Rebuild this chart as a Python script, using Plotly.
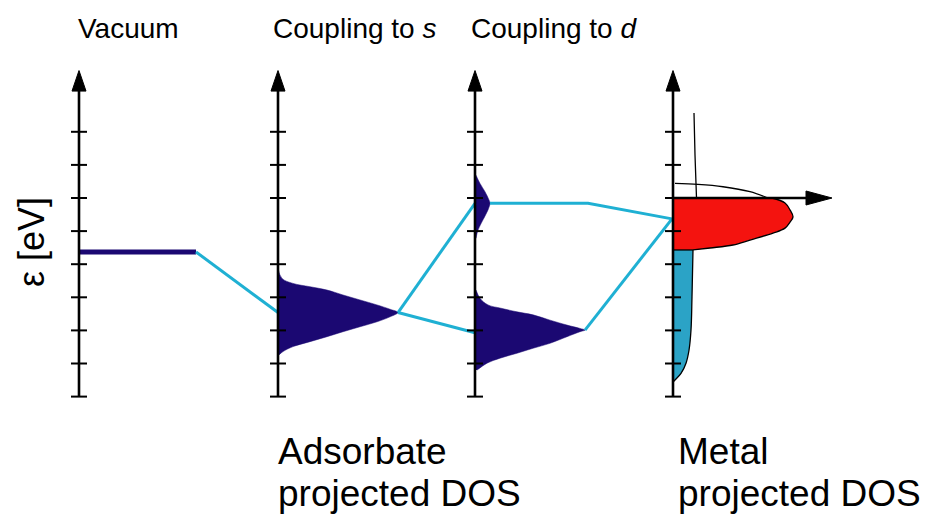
import plotly.graph_objects as go

# ---------------- data (energies in eV, densities in arbitrary units) ----------------
TICK_E = [2, 1, 0, -1, -2, -3, -4, -5, -6]
PANEL_X = [0.79, 2.78, 4.75, 6.73]          # positions of the four energy axes
E_AXIS_MIN = -6.0
E_AXIS_TIP = 3.85

E_VACUUM = -1.63
VACUUM_LEN = 1.17

# adsorbate level coupled to s-band (broadened)
S_E = [-2.12, -2.43, -2.58, -2.68, -2.78, -2.93, -3.08, -3.23, -3.36, -3.46,
       -3.59, -3.74, -3.89, -4.04, -4.19, -4.34, -4.49, -4.64, -4.74]
S_DOS = [0.00, 0.04, 0.15, 0.32, 0.49, 0.65, 0.82, 0.99, 1.12, 1.20,
         1.12, 0.99, 0.82, 0.65, 0.49, 0.32, 0.15, 0.05, 0.01]

# coupling to d: bonding peak
DB_E = [-2.78, -3.03, -3.23, -3.33, -3.44, -3.53, -3.69, -3.84, -3.94, -3.99,
        -4.04, -4.19, -4.39, -4.54, -4.69, -4.84, -4.99, -5.20]
DB_DOS = [0.01, 0.05, 0.13, 0.26, 0.42, 0.58, 0.75, 0.92, 1.05, 1.10,
          1.05, 0.92, 0.75, 0.58, 0.42, 0.25, 0.12, 0.02]

# coupling to d: antibonding peak
DA_E = [0.69, 0.44, 0.19, -0.06, -0.16, -0.36, -0.66, -0.97, -1.22]
DA_DOS = [0.01, 0.05, 0.10, 0.14, 0.15, 0.13, 0.08, 0.03, 0.01]

# metal d-band: filled part (below Fermi level) and empty part (above)
MD_FILLED_E = [0.00, -0.15, -0.36, -0.57, -0.73, -0.91, -1.06, -1.27, -1.42, -1.51, -1.57]
MD_FILLED_DOS = [0.99, 1.12, 1.17, 1.20, 1.17, 1.12, 1.00, 0.77, 0.60, 0.37, 0.20]
MD_EMPTY_E = [0.00, 0.19, 0.34, 0.41, 0.44]
MD_EMPTY_DOS = [0.95, 0.77, 0.50, 0.25, 0.02]

# metal s-band: above Fermi level (empty) and the filled tail below the d-band
MS_EMPTY_E = [2.57, 1.30, 0.00]
MS_EMPTY_DOS = [0.21, 0.22, 0.235]
MS_FILLED_E = [-1.57, -2.98, -3.99, -4.60, -4.99, -5.30, -5.50, -5.56]
MS_FILLED_DOS = [0.20, 0.19, 0.18, 0.16, 0.13, 0.08, 0.02, 0.00]

E_HYBRID_METAL = -0.63      # where the adsorbate levels meet the metal
E_BOND_LEFT = -4.07         # lower link arrives at the d-coupling axis
LEVEL_LEN = 1.13            # length of antibonding level line
FERMI_ARROW_END = 8.32

TOP_LABELS = ["Vacuum", "Coupling to <i>s</i>", "Coupling to <i>d</i>"]
BOTTOM_LABELS = [["Adsorbate", "projected DOS"], ["Metal", "projected DOS"]]
Y_LABEL = "ε [eV]"

# ---------------- styling ----------------
W, H = 926, 516
NAVY = "#1b0872"
CYAN = "#1fb0d3"
TEAL = "#2ba3c6"
RED = "#f4130f"
FONT = "Liberation Sans, Arial, sans-serif"
PX = 0.01                     # x units per pixel
E_TOP_PX, E_PER_PX = 198.0, 33.1
Y_RANGE = [(E_TOP_PX - H) / E_PER_PX, E_TOP_PX / E_PER_PX]

fig = go.Figure()


def add_line(xs, ys, color, lw, shape="linear"):
    fig.add_trace(go.Scatter(x=xs, y=ys, mode="lines",
                             line=dict(color=color, width=lw, shape=shape, smoothing=1),
                             hoverinfo="skip", showlegend=False))


def add_tri(xs, ys):
    fig.add_trace(go.Scatter(x=xs, y=ys, mode="lines", fill="toself", fillcolor="black",
                             line=dict(color="black", width=1),
                             hoverinfo="skip", showlegend=False))


def band(axis, es, dos, fillcolor, linecolor, lw):
    """Fill between the energy axis (straight) and a smooth DOS curve."""
    fig.add_trace(go.Scatter(x=[axis, axis], y=[es[0], es[-1]], mode="lines",
                             line=dict(width=0, color=fillcolor),
                             hoverinfo="skip", showlegend=False))
    fig.add_trace(go.Scatter(x=[axis + d for d in dos], y=es, mode="lines", fill="tonextx",
                             fillcolor=fillcolor,
                             line=dict(color=linecolor, width=lw, shape="spline", smoothing=1),
                             hoverinfo="skip", showlegend=False))


# adsorbate peaks
band(PANEL_X[1], S_E, S_DOS, NAVY, NAVY, 0.5)
band(PANEL_X[2], DB_E, DB_DOS, NAVY, NAVY, 0.5)
band(PANEL_X[2], DA_E, DA_DOS, NAVY, NAVY, 0.5)

# vacuum level
add_line([PANEL_X[0], PANEL_X[0] + VACUUM_LEN], [E_VACUUM, E_VACUUM], NAVY, 5)

# connecting lines
s_i = S_DOS.index(max(S_DOS))
s_tip = (PANEL_X[1] + S_DOS[s_i], S_E[s_i])
a_i = DA_DOS.index(max(DA_DOS))
b_i = DB_DOS.index(max(DB_DOS))
add_line([PANEL_X[0] + VACUUM_LEN, PANEL_X[1]], [E_VACUUM, S_E[s_i]], CYAN, 3)
add_line([s_tip[0], PANEL_X[2]], [s_tip[1], DA_E[a_i]], CYAN, 3)
add_line([s_tip[0], PANEL_X[2]], [s_tip[1], E_BOND_LEFT], CYAN, 3)
add_line([PANEL_X[2] + DA_DOS[a_i], PANEL_X[2] + LEVEL_LEN, PANEL_X[3] - 0.01],
         [DA_E[a_i], DA_E[a_i], E_HYBRID_METAL], CYAN, 3)
add_line([PANEL_X[2] + DB_DOS[b_i], PANEL_X[3] - 0.01], [DB_E[b_i], E_HYBRID_METAL], CYAN, 3)

# metal DOS
mx = PANEL_X[3]
band(mx, MS_FILLED_E, MS_FILLED_DOS, TEAL, "black", 1.3)
band(mx, MD_FILLED_E, MD_FILLED_DOS, RED, "black", 1.3)
add_line([mx, mx + MD_FILLED_DOS[-1]], [MD_FILLED_E[-1], MD_FILLED_E[-1]], "black", 1.3)
add_line([mx + d for d in MD_EMPTY_DOS], MD_EMPTY_E, "black", 1.3, "spline")
add_line([mx + d for d in MS_EMPTY_DOS], MS_EMPTY_E, "black", 1.3, "spline")

# axes with ticks and arrows
HEAD_LEN_E = 0.62
HEAD_HALF = 7 * PX
TICK_HALF = 8 * PX
for ax in PANEL_X:
    add_line([ax, ax], [E_AXIS_MIN, E_AXIS_TIP - HEAD_LEN_E + 0.05], "black", 2.6)
    tx, ty = [], []
    for e in TICK_E:
        tx += [ax - TICK_HALF, ax + TICK_HALF, None]
        ty += [e, e, None]
    add_line(tx, ty, "black", 2)
    add_tri([ax - HEAD_HALF, ax + HEAD_HALF, ax, ax - HEAD_HALF],
            [E_AXIS_TIP - HEAD_LEN_E, E_AXIS_TIP - HEAD_LEN_E, E_AXIS_TIP, E_AXIS_TIP - HEAD_LEN_E])

# Fermi-level horizontal arrow
HEAD_LEN_X = 26 * PX
HEAD_HALF_E = 7 / E_PER_PX
add_line([mx, FERMI_ARROW_END - HEAD_LEN_X + 0.02], [0, 0], "black", 2.6)
add_tri([FERMI_ARROW_END - HEAD_LEN_X, FERMI_ARROW_END - HEAD_LEN_X, FERMI_ARROW_END,
         FERMI_ARROW_END - HEAD_LEN_X],
        [HEAD_HALF_E, -HEAD_HALF_E, 0, HEAD_HALF_E])

# ---------------- text ----------------
def px2paper(x, y):
    return x / W, 1 - y / H


annots = []
top_left_px = [76, 271, 469]
for lab, xl in zip(TOP_LABELS, top_left_px):
    xp, yp = px2paper(xl, 38 - 0.35 * 28)
    annots.append(dict(text=lab, x=xp, y=yp, xanchor="left", yanchor="middle",
                       font=dict(size=28, color="black", family=FONT)))
bottom_left_px = [276, 676]
for lines, xl in zip(BOTTOM_LABELS, bottom_left_px):
    for line, base in zip(lines, [464, 506]):
        xp, yp = px2paper(xl, base - 0.35 * 37)
        annots.append(dict(text=line, x=xp, y=yp, xanchor="left", yanchor="middle",
                           font=dict(size=37, color="black", family=FONT)))
xp, yp = px2paper(32, 242)
annots.append(dict(text=Y_LABEL, x=xp, y=yp, xanchor="center", yanchor="middle", textangle=-90,
                   font=dict(size=36, color="black", family=FONT)))
for a in annots:
    a.update(xref="paper", yref="paper", showarrow=False)

fig.update_layout(
    width=W, height=H, margin=dict(l=0, r=0, t=0, b=0),
    paper_bgcolor="white", plot_bgcolor="white",
    xaxis=dict(range=[0, W * PX], visible=False, fixedrange=True),
    yaxis=dict(range=Y_RANGE, visible=False, fixedrange=True),
    annotations=annots, showlegend=False,
)
fig.write_html("out.html", config={"displayModeBar": False},
               post_script="document.body.style.margin='0';")
